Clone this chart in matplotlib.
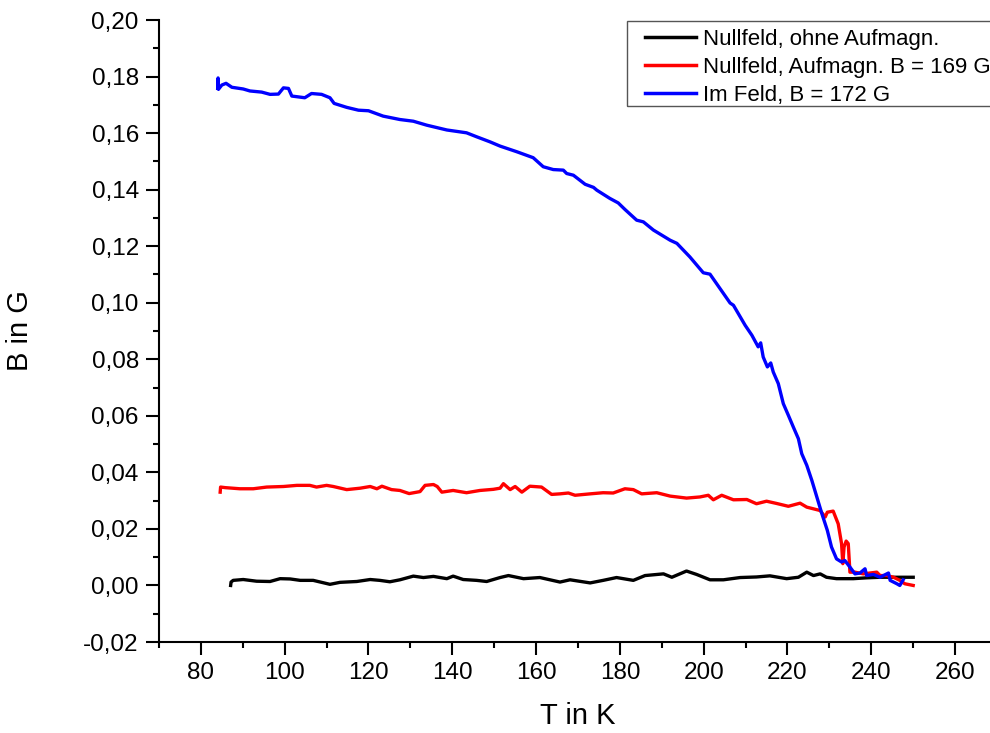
import matplotlib
matplotlib.use("Agg")
import matplotlib.pyplot as plt
from matplotlib.ticker import MultipleLocator, FuncFormatter
from matplotlib.patches import Rectangle

plt.rcParams['font.family'] = ['Liberation Sans', 'DejaVu Sans']

# --- data (T in K, B in G) ---
T_black = [87.1, 87.2, 87.7, 90.1, 93.3, 96.5, 98.9, 101.3, 103.7, 106.8, 110.8, 113.2,
           117.2, 120.4, 122.7, 125.1, 127.5, 130.7, 133.1, 135.5, 138.7, 140.2, 142.6,
           145.8, 148.2, 151.4, 153.4, 157.0, 160.9, 165.7, 168.1, 172.9, 176.0, 179.2,
           183.2, 186.0, 190.4, 192.4, 195.9, 198.3, 201.5, 204.7, 208.7, 212.6, 215.8,
           219.8, 222.6, 224.6, 226.2, 227.8, 229.3, 231.7, 235.7, 238.9, 242.1, 246.1, 250.0]
B_black = [0.0000, 0.0012, 0.0018, 0.0021, 0.0015, 0.0014, 0.0024, 0.0023, 0.0018, 0.0018,
           0.0004, 0.0011, 0.0014, 0.0021, 0.0018, 0.0013, 0.0020, 0.0033, 0.0028, 0.0032,
           0.0024, 0.0033, 0.0021, 0.0018, 0.0014, 0.0028, 0.0035, 0.0024, 0.0028, 0.0012,
           0.0020, 0.0009, 0.0018, 0.0028, 0.0018, 0.0035, 0.0041, 0.0029, 0.0051, 0.0039,
           0.0020, 0.0020, 0.0028, 0.0030, 0.0034, 0.0024, 0.0029, 0.0047, 0.0035, 0.0041,
           0.0029, 0.0024, 0.0024, 0.0027, 0.0029, 0.0029, 0.0029]

T_red = [84.6, 84.7, 85.8, 89.3, 92.5, 95.7, 99.7, 102.9, 106.0, 107.6, 110.0, 111.6, 114.8,
         118.0, 120.4, 122.0, 123.2, 125.5, 127.5, 129.7, 132.3, 133.5, 135.5, 136.4, 137.5,
         140.2, 143.4, 146.6, 149.8, 151.4, 152.2, 153.8, 155.0, 156.6, 158.5, 161.3, 163.7,
         165.7, 167.7, 169.3, 172.9, 176.0, 178.4, 181.2, 183.2, 185.2, 188.8, 192.0, 195.9,
         199.1, 201.1, 202.3, 204.3, 207.1, 210.3, 212.6, 215.0, 217.4, 220.2, 223.0, 224.6,
         227.8, 229.0, 229.5, 230.9, 232.1, 232.9, 233.2, 233.5, 234.0, 234.5, 234.9, 236.1,
         238.1, 239.7, 241.3, 242.1, 243.7, 245.3, 246.8, 248.0, 250.0]
B_red = [0.0330, 0.0348, 0.0346, 0.0342, 0.0342, 0.0348, 0.0350, 0.0354, 0.0354, 0.0348,
         0.0354, 0.0350, 0.0339, 0.0344, 0.0350, 0.0342, 0.0351, 0.0339, 0.0336, 0.0325,
         0.0332, 0.0354, 0.0357, 0.0350, 0.0330, 0.0336, 0.0328, 0.0336, 0.0340, 0.0344,
         0.0360, 0.0339, 0.0350, 0.0330, 0.0351, 0.0348, 0.0322, 0.0324, 0.0327, 0.0319,
         0.0324, 0.0328, 0.0327, 0.0342, 0.0339, 0.0324, 0.0328, 0.0316, 0.0309, 0.0313,
         0.0319, 0.0303, 0.0319, 0.0303, 0.0304, 0.0289, 0.0298, 0.0290, 0.0280, 0.0291,
         0.0277, 0.0265, 0.0242, 0.0259, 0.0263, 0.0218, 0.0148, 0.0077, 0.0136, 0.0157,
         0.0148, 0.0047, 0.0047, 0.0041, 0.0044, 0.0047, 0.0035, 0.0035, 0.0029, 0.0018,
         0.0006, 0.0000]

T_blue = [84.0, 84.1, 84.2, 85.0, 86.0, 87.4, 90.1, 91.7, 94.5, 96.5, 98.5, 99.7, 100.9,
          101.7, 104.8, 106.4, 108.8, 110.8, 111.8, 114.8, 117.6, 120.0, 123.5, 127.5, 130.7,
          133.9, 138.7, 143.4, 145.8, 149.0, 151.4, 155.4, 159.3, 161.7, 164.1, 166.5, 167.3,
          168.9, 171.7, 173.7, 174.5, 177.6, 179.6, 181.2, 184.0, 185.6, 188.0, 190.0, 192.0,
          193.6, 196.7, 199.9, 201.5, 204.7, 206.3, 207.1, 209.9, 211.5, 213.0, 213.6, 214.2,
          215.2, 216.0, 216.6, 217.8, 219.0, 220.2, 221.4, 222.6, 223.4, 224.6, 225.8, 227.0,
          228.2, 229.5, 230.5, 231.7, 232.9, 233.7, 234.9, 236.1, 237.3, 238.5, 238.9, 240.5,
          242.1, 244.1, 244.5, 246.1, 246.8, 247.6]
B_blue = [0.1758, 0.1795, 0.1755, 0.1770, 0.1776, 0.1762, 0.1756, 0.1749, 0.1745, 0.1737,
          0.1738, 0.1760, 0.1758, 0.1731, 0.1725, 0.1740, 0.1737, 0.1725, 0.1705, 0.1691,
          0.1681, 0.1679, 0.1660, 0.1648, 0.1642, 0.1628, 0.1611, 0.1601, 0.1587, 0.1569,
          0.1554, 0.1534, 0.1513, 0.1481, 0.1471, 0.1469, 0.1457, 0.1451, 0.1419, 0.1408,
          0.1398, 0.1369, 0.1353, 0.1330, 0.1292, 0.1286, 0.1257, 0.1239, 0.1221, 0.1210,
          0.1162, 0.1106, 0.1101, 0.1033, 0.0999, 0.0991, 0.0920, 0.0885, 0.0844, 0.0858,
          0.0808, 0.0773, 0.0787, 0.0755, 0.0714, 0.0643, 0.0602, 0.0560, 0.0519, 0.0466,
          0.0425, 0.0372, 0.0313, 0.0254, 0.0195, 0.0136, 0.0094, 0.0083, 0.0088, 0.0065,
          0.0041, 0.0044, 0.0059, 0.0035, 0.0039, 0.0029, 0.0044, 0.0018, 0.0006, 0.0000,
          0.0020]

labels = ["Nullfeld, ohne Aufmagn.", "Nullfeld, Aufmagn. B = 169 G", "Im Feld, B = 172 G"]
colors = ["#000000", "#ff0000", "#0000ff"]
x_label = "T in K"
y_label = "B in G"

W, H = 990, 733
fig = plt.figure(figsize=(W / 100, H / 100), dpi=100)
ax = fig.add_axes([159 / W, 1 - 642 / H, 838 / W, 622 / H])

for T, B, lab, c in zip([T_black, T_red, T_blue], [B_black, B_red, B_blue], labels, colors):
    ax.plot(T, B, color=c, lw=2.4, label=lab, solid_joinstyle='round')

ax.set_xlim(70, 270)
ax.set_ylim(-0.02, 0.20)
ax.xaxis.set_major_locator(MultipleLocator(20))
ax.xaxis.set_minor_locator(MultipleLocator(10))
ax.yaxis.set_major_locator(MultipleLocator(0.02))
ax.yaxis.set_minor_locator(MultipleLocator(0.01))
ax.yaxis.set_major_formatter(FuncFormatter(lambda v, p: f"{v:.2f}".replace(".", ",").replace("−", "-")))
ax.xaxis.set_major_formatter(FuncFormatter(lambda v, p: f"{v:.0f}"))

for s in ["top", "right"]:
    ax.spines[s].set_visible(False)
for s in ["left", "bottom"]:
    ax.spines[s].set_linewidth(1.5)

ax.tick_params(which="major", direction="out", length=9.5, width=1.5, labelsize=17.5, pad=5)
ax.tick_params(which="minor", direction="out", length=4.5, width=1.5)

ax.set_xlabel(x_label, fontsize=21, labelpad=13)
ax.set_ylabel(y_label, fontsize=21)
ax.yaxis.set_label_coords((34 - 159) / 838, 0.5)

leg = ax.legend(loc="upper left", bbox_to_anchor=(645 / W, 1 - 29 / H),
                bbox_transform=fig.transFigure, fontsize=16, frameon=False,
                handlelength=2.3, handletextpad=0.32,
                borderpad=0, labelspacing=0.31, borderaxespad=0)
for l in leg.get_lines():
    l.set_linewidth(2.5)

fig.patches.append(Rectangle((627 / W, 1 - 106 / H), 400 / W, 85 / H,
                             transform=fig.transFigure, fill=False,
                             edgecolor="#555555", linewidth=1.0, zorder=5))

fig.savefig("out.png", dpi=100)
